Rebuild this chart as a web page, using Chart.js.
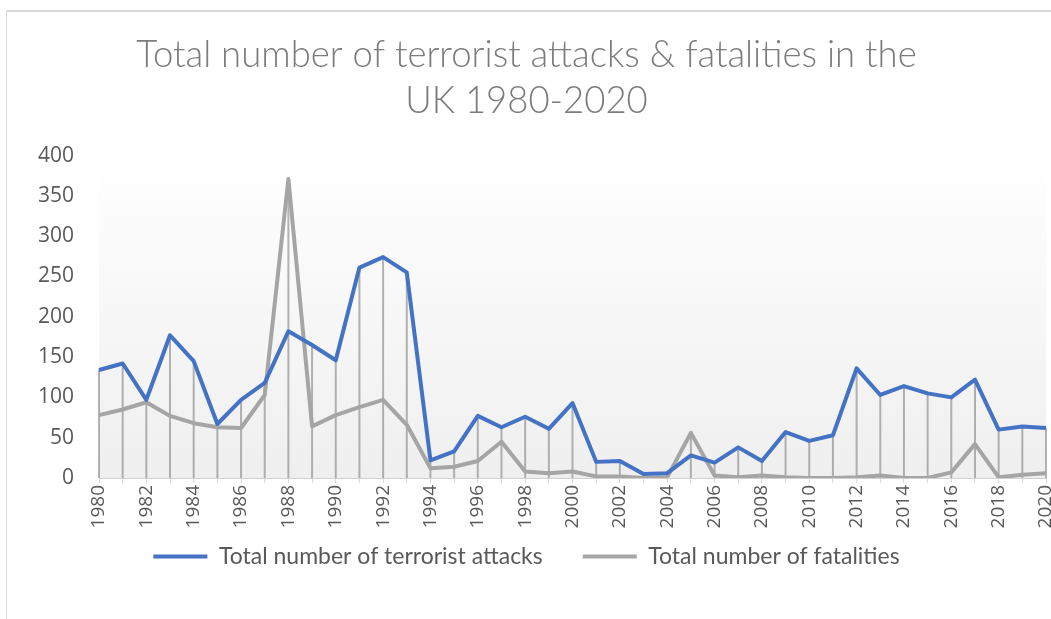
<!DOCTYPE html>
<html>
<head>
<meta charset="utf-8">
<script src="https://cdn.jsdelivr.net/npm/chart.js@4.4.1/dist/chart.umd.min.js"></script>
<style>
  html, body { margin: 0; padding: 0; background: #fff; overflow: hidden; width: 1051px; height: 619px; }
  #wrap { position: absolute; left: 6px; top: 10px; width: 1056px; height: 609px;
          border-left: 1px solid #d9d9d9; border-top: 2px solid #d9d9d9; }
</style>
</head>
<body>
<div id="wrap"><canvas id="myChart"></canvas></div>
<script>
const years = ['1980','1981','1982','1983','1984','1985','1986','1987','1988','1989',
               '1990','1991','1992','1993','1994','1995','1996','1997','1998','1999',
               '2000','2001','2002','2003','2004','2005','2006','2007','2008','2009',
               '2010','2011','2012','2013','2014','2015','2016','2017','2018','2019','2020'];

const attacks = [134, 142, 97, 177, 145, 67, 97, 118, 182, 165,
                 146, 261, 274, 255, 22, 33, 77, 63, 76, 61,
                 93, 20, 21, 5, 6, 28, 19, 38, 21, 57,
                 46, 53, 136, 103, 114, 105, 100, 122, 60, 64, 62];

const fatalities = [78, 85, 94, 77, 68, 63, 62, 103, 371, 64,
                    78, 88, 97, 66, 12, 14, 21, 45, 8, 6,
                    8, 2, 2, 0, 1, 56, 3, 1, 3, 1,
                    0, 0, 1, 3, 0, 0, 7, 42, 1, 4, 6];

const yTicks = [0, 50, 100, 150, 200, 250, 300, 350, 400];

const ctx = document.getElementById('myChart');

// plot area gradient like the excel chart
const plotBg = {
  id: 'plotBg',
  beforeDraw(chart) {
    const a = chart.chartArea, c = chart.ctx;
    const g = c.createLinearGradient(0, a.top, 0, a.bottom);
    g.addColorStop(0, '#ffffff');
    g.addColorStop(1, '#efefef');
    c.save();
    c.fillStyle = g;
    c.fillRect(a.left, a.top, a.right - a.left, a.bottom - a.top);
    c.restore();
  }
};

// drop lines from the highest point of each year down to 0
const dropLines = {
  id: 'dropLines',
  beforeDatasetsDraw(chart) {
    const x = chart.scales.x, y = chart.scales.y, c = chart.ctx;
    c.save();
    c.strokeStyle = 'rgba(130,130,130,0.6)';
    c.lineWidth = 2;
    years.forEach((yr, i) => {
      const px = x.getPixelForValue(i);
      const top = y.getPixelForValue(Math.max(attacks[i], fatalities[i]));
      c.beginPath();
      c.moveTo(px, top);
      c.lineTo(px, y.getPixelForValue(0));
      c.stroke();
    });
    c.restore();
  }
};

let graphdata = {
  type: 'line',
  data: {
    labels: years,
    datasets: [{
      label: 'Total number of terrorist attacks',
      data: attacks,
      borderColor: '#4472c4',
      backgroundColor: '#4472c4',
      borderWidth: 4,
      pointRadius: 0,
      tension: 0,
      borderJoinStyle: 'round'
    }, {
      label: 'Total number of fatalities',
      data: fatalities,
      borderColor: '#a5a5a5',
      backgroundColor: '#a5a5a5',
      borderWidth: 4,
      pointRadius: 0,
      tension: 0,
      borderJoinStyle: 'round'
    }]
  },
  options: {
    responsive: true,
    maintainAspectRatio: false,
    animation: false,
    layout: { padding: { left: 0, right: 17, top: 0, bottom: 43 } },
    plugins: {
      title: {
        display: true,
        text: ['Total number of terrorist attacks & fatalities in the', 'UK 1980-2020'],
        color: '#7c7c7c',
        font: { family: 'Lato', size: 36.5, weight: 300, lineHeight: 1.24 },
        padding: { top: 21, bottom: 32 }
      },
      legend: {
        position: 'bottom',
        labels: {
          usePointStyle: true,
          pointStyle: 'line',
          pointStyleWidth: 54,
          color: '#595959',
          font: { family: 'Lato', size: 23 },
          padding: 40
        }
      },
      tooltip: { enabled: false }
    },
    scales: {
      x: {
        offset: false,
        grid: { display: true, drawOnChartArea: false, drawTicks: true, tickLength: 5, color: '#d9d9d9' },
        border: { display: true, color: '#d0d0d0', width: 1 },
        ticks: {
          autoSkip: false,
          maxRotation: 90,
          minRotation: 90,
          padding: 2,
          color: '#595959',
          font: { family: 'Open Sans', size: 19 },
          callback: (v, i) => (i % 2 === 0 ? years[i] : '')
        },
        afterFit: (s) => {
          s.height = 27;
          s.paddingRight = 0;
          // labels run into the legend's top padding, so don't clip them
          s._computeLabelArea = () => undefined;
        }
      },
      y: {
        min: 0,
        max: 400,
        grid: { display: false },
        border: { display: false },
        afterBuildTicks: (s) => { s.ticks = yTicks.map(v => ({ value: v })); },
        ticks: {
          padding: 17,
          color: '#595959',
          font: { family: 'Open Sans', size: 21 }
        },
        afterFit: (s) => { s.width = 92; }
      }
    }
  },
  plugins: [plotBg, dropLines]
};

let mychart = new Chart(ctx, graphdata);
</script>
</body>
</html>
